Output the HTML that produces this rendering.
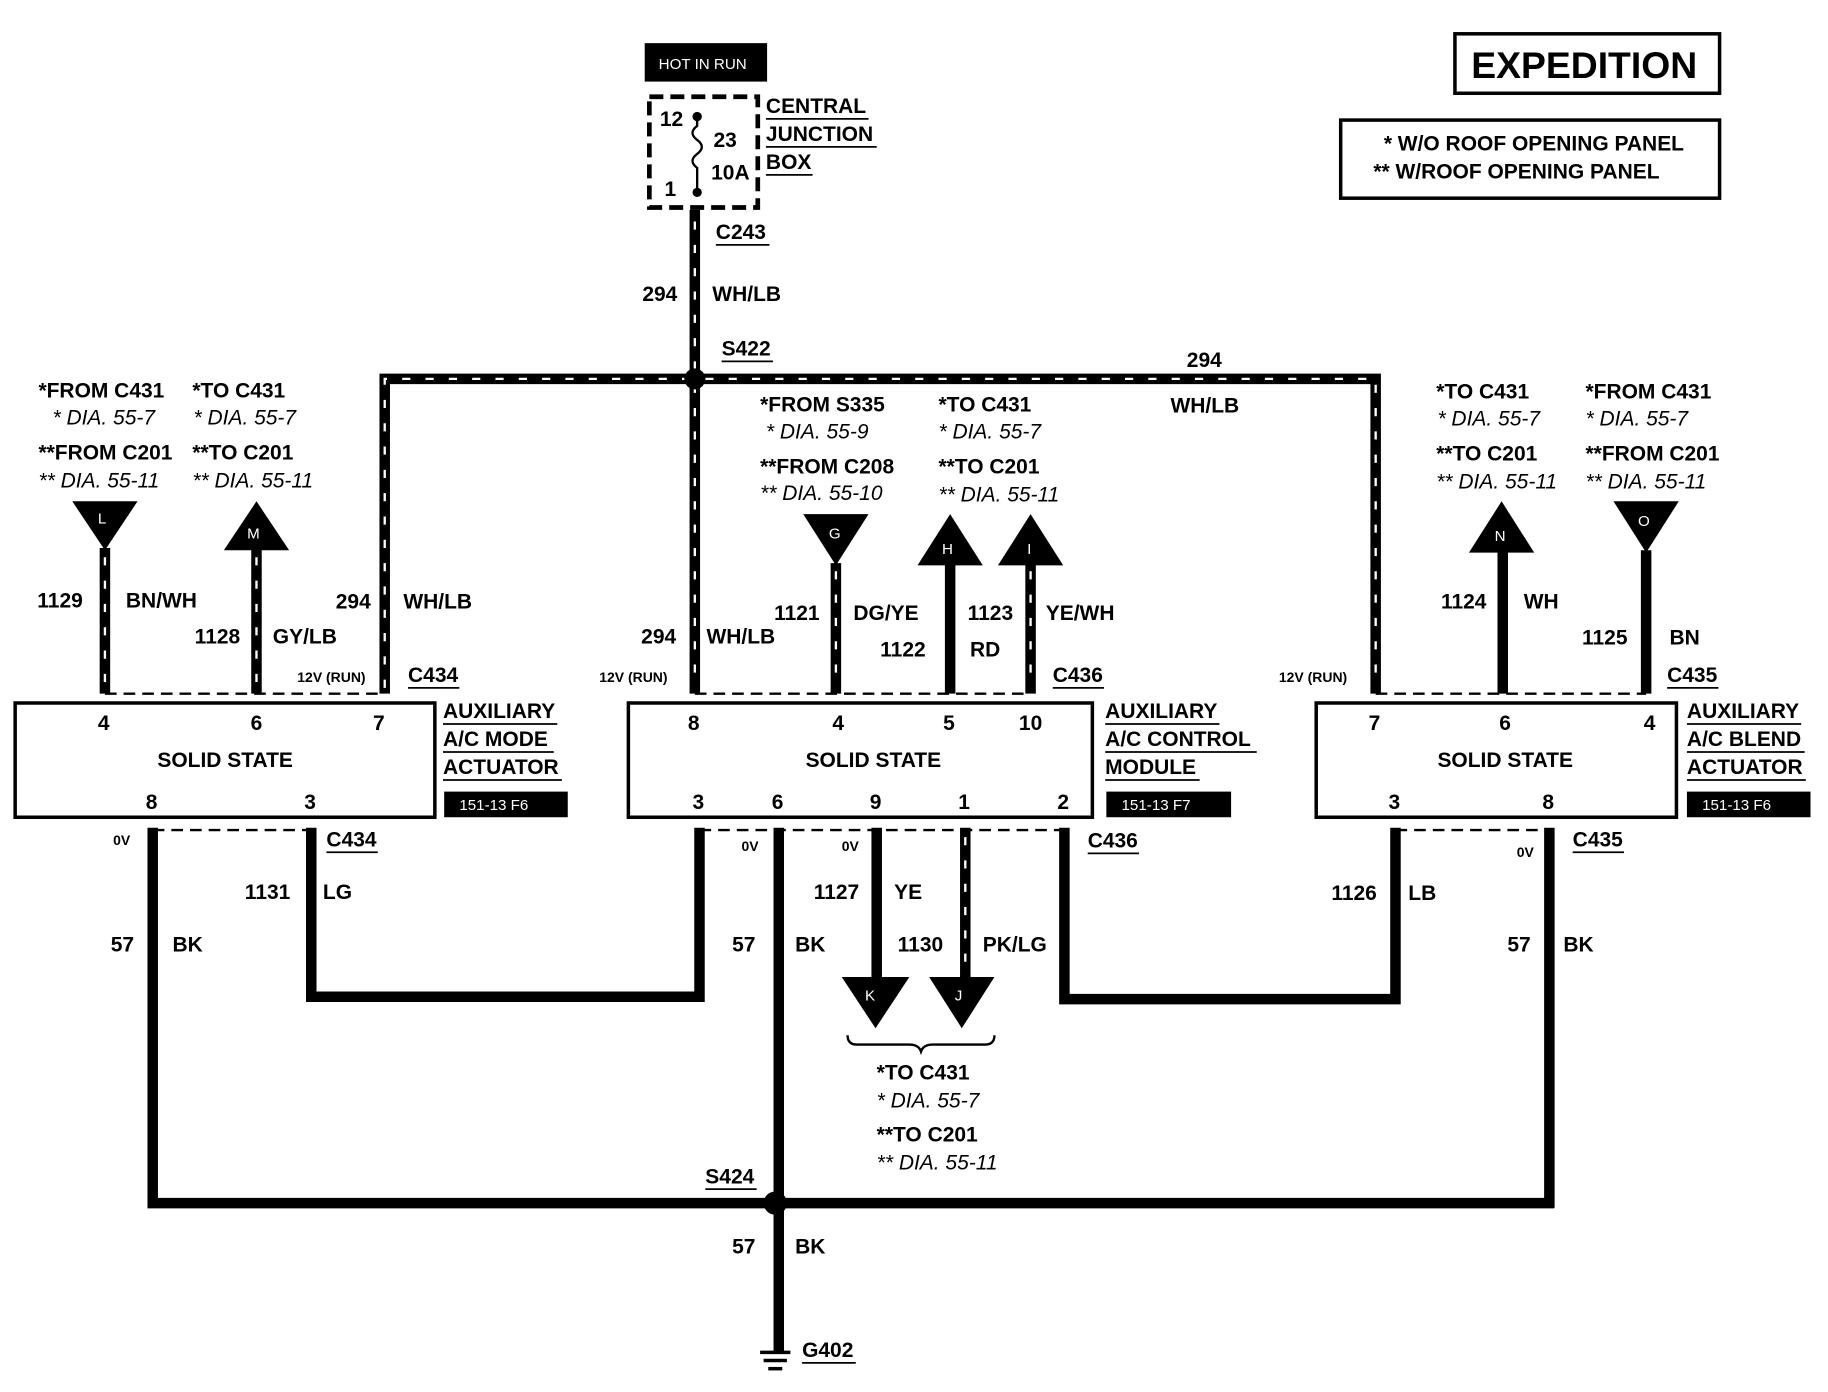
<!DOCTYPE html>
<html><head><meta charset="utf-8"><style>
html,body{margin:0;padding:0;background:#fff;}
svg{display:block;}
text{font-family:"Liberation Sans",Arial,sans-serif;font-weight:bold;font-size:18px;fill:#000;}
.i{font-style:italic;font-weight:normal;}
.s{font-size:12px;}
.w{fill:#fff;font-size:13px;font-weight:normal;}
.k{stroke:#000;stroke-width:9;fill:none;}
.st{stroke:#fff;stroke-width:2;stroke-dasharray:7 13;fill:none;}
.d{stroke:#000;stroke-width:2;stroke-dasharray:10 6;fill:none;}
.u{stroke:#000;stroke-width:1.5;}
</style></head><body>
<svg width="1828" height="1392" viewBox="0 0 1568 1194" preserveAspectRatio="none" xmlns="http://www.w3.org/2000/svg">
<rect width="1568" height="1194" fill="#fff"/>
<!-- header boxes -->
<rect x="1248" y="29" width="227" height="51" fill="none" stroke="#000" stroke-width="3"/>
<text x="1262" y="67" style="font-size:32px">EXPEDITION</text>
<rect x="1150" y="103" width="325" height="67" fill="none" stroke="#000" stroke-width="3"/>
<text x="1187" y="129">* W/O ROOF OPENING PANEL</text>
<text x="1178" y="153">** W/ROOF OPENING PANEL</text>
<!-- junction box -->
<rect x="553" y="37" width="105" height="33" fill="#000"/>
<text x="565" y="59" class="w">HOT IN RUN</text>
<rect x="557" y="83" width="93" height="95" fill="none" stroke="#000" stroke-width="4" stroke-dasharray="12 6"/>
<path d="M598 98 v10 q-8 6 0 12 q8 6 0 12 q-8 6 0 12 v22" stroke="#000" stroke-width="2" fill="none"/>
<circle cx="598" cy="100" r="4"/><circle cx="598" cy="165" r="4"/>
<text x="566" y="108">12</text><text x="612" y="126">23</text><text x="610" y="154">10A</text><text x="570" y="168">1</text>
<text x="657" y="97">CENTRAL</text><text x="657" y="121">JUNCTION</text><text x="657" y="145">BOX</text>
<line class="u" x1="657" y1="102" x2="745" y2="102"/><line class="u" x1="657" y1="126" x2="752" y2="126"/><line class="u" x1="657" y1="150" x2="697" y2="150"/>
<!-- main 294 -->
<path class="k" d="M596 180 V595"/><path class="st" d="M596 190 V590"/>
<path class="k" d="M330 595 V325 H1180 V595"/><path class="st" d="M330 590 V325 H1180 V590"/>
<circle cx="596" cy="325" r="9"/>
<text x="614" y="205">C243</text><line class="u" x1="614" y1="210" x2="660" y2="210"/>
<text x="551" y="258">294</text><text x="611" y="258">WH/LB</text>
<text x="619" y="305">S422</text><line class="u" x1="619" y1="310" x2="663" y2="310"/>
<text x="1018" y="315">294</text><text x="1004" y="354">WH/LB</text>
<!-- left labels -->
<text x="33" y="341">*FROM C431</text><text x="45" y="364" class="i">* DIA. 55-7</text>
<text x="33" y="394">**FROM C201</text><text x="33" y="418" class="i">** DIA. 55-11</text>
<text x="165" y="341">*TO C431</text><text x="166" y="364" class="i">* DIA. 55-7</text>
<text x="165" y="394">**TO C201</text><text x="165" y="418" class="i">** DIA. 55-11</text>
<polygon points="62,430 118,430 90,472"/><text x="84" y="449" class="w">L</text>
<polygon points="192,472 248,472 220,430"/><text x="212" y="462" class="w">M</text>
<path class="k" d="M90 470 V595"/><path class="st" d="M90 478 V590"/>
<path class="k" d="M220 470 V595"/><path class="st" d="M220 478 V590"/>
<text x="32" y="521">1129</text><text x="108" y="521">BN/WH</text>
<text x="167" y="552">1128</text><text x="234" y="552">GY/LB</text>
<text x="288" y="522">294</text><text x="346" y="522">WH/LB</text>
<text x="255" y="585" class="s">12V (RUN)</text>
<text x="350" y="585">C434</text><line class="u" x1="350" y1="590" x2="394" y2="590"/>
<line class="d" x1="90" y1="595" x2="330" y2="595"/>
<rect x="13" y="603" width="360" height="98" fill="none" stroke="#000" stroke-width="3"/>
<text x="84" y="626">4</text><text x="215" y="626">6</text><text x="320" y="626">7</text>
<text x="135" y="658">SOLID STATE</text>
<text x="125" y="694">8</text><text x="261" y="694">3</text>
<text x="380" y="616">AUXILIARY</text><text x="380" y="640">A/C MODE</text><text x="380" y="664">ACTUATOR</text>
<line class="u" x1="380" y1="621" x2="478" y2="621"/><line class="u" x1="380" y1="645" x2="475" y2="645"/><line class="u" x1="380" y1="669" x2="482" y2="669"/>
<rect x="381" y="679" width="106" height="22" fill="#000"/><text x="394" y="695" class="w">151-13 F6</text>
<line class="d" x1="131" y1="712" x2="267" y2="712"/>
<text x="97" y="725" class="s">0V</text>
<text x="280" y="726">C434</text><line class="u" x1="280" y1="731" x2="324" y2="731"/>
<path class="k" d="M131 710 V1032 H1333"/>
<path class="k" d="M267 710 V855 H600 V710"/>
<text x="210" y="771">1131</text><text x="277" y="771">LG</text>
<text x="95" y="816">57</text><text x="148" y="816">BK</text>
<!-- middle -->
<text x="652" y="353">*FROM S335</text><text x="657" y="376" class="i">* DIA. 55-9</text>
<text x="652" y="406">**FROM C208</text><text x="652" y="429" class="i">** DIA. 55-10</text>
<text x="805" y="353">*TO C431</text><text x="805" y="376" class="i">* DIA. 55-7</text>
<text x="805" y="406">**TO C201</text><text x="805" y="430" class="i">** DIA. 55-11</text>
<polygon points="689,441 745,441 717,485"/><text x="711" y="462" class="w">G</text>
<polygon points="787,485 843,485 815,441"/><text x="808" y="475" class="w">H</text>
<polygon points="856,485 912,485 884,441"/><text x="881" y="475" class="w">I</text>
<path class="k" d="M717 483 V595"/><path class="st" d="M717 490 V590"/>
<path class="k" d="M815 483 V595"/>
<path class="k" d="M884 483 V595"/><path class="st" d="M884 490 V590"/>
<text x="514" y="585" class="s">12V (RUN)</text>
<text x="550" y="552">294</text><text x="606" y="552">WH/LB</text>
<text x="664" y="532">1121</text><text x="732" y="532">DG/YE</text>
<text x="755" y="563">1122</text><text x="832" y="563">RD</text>
<text x="830" y="532">1123</text><text x="897" y="532">YE/WH</text>
<text x="903" y="585">C436</text><line class="u" x1="903" y1="590" x2="947" y2="590"/>
<line class="d" x1="596" y1="595" x2="884" y2="595"/>
<rect x="539" y="603" width="398" height="98" fill="none" stroke="#000" stroke-width="3"/>
<text x="590" y="626">8</text><text x="714" y="626">4</text><text x="809" y="626">5</text><text x="874" y="626">10</text>
<text x="691" y="658">SOLID STATE</text>
<text x="594" y="694">3</text><text x="662" y="694">6</text><text x="746" y="694">9</text><text x="822" y="694">1</text><text x="907" y="694">2</text>
<text x="948" y="616">AUXILIARY</text><text x="948" y="640">A/C CONTROL</text><text x="948" y="664">MODULE</text>
<line class="u" x1="948" y1="621" x2="1046" y2="621"/><line class="u" x1="948" y1="645" x2="1078" y2="645"/><line class="u" x1="948" y1="669" x2="1029" y2="669"/>
<rect x="949" y="679" width="107" height="22" fill="#000"/><text x="962" y="695" class="w">151-13 F7</text>
<line class="d" x1="600" y1="712" x2="913" y2="712"/>
<text x="636" y="730" class="s">0V</text><text x="722" y="730" class="s">0V</text>
<text x="933" y="727">C436</text><line class="u" x1="933" y1="732" x2="977" y2="732"/>
<path class="k" d="M668 710 V1160"/>
<path class="k" d="M752 710 V842"/>
<path class="k" d="M828 710 V842"/><path class="st" d="M828 718 V835"/>
<polygon points="722,838 780,838 751,882"/><text x="742" y="858" class="w">K</text>
<polygon points="797,838 853,838 825,882"/><text x="819" y="858" class="w">J</text>
<path class="k" d="M913 710 V857 H1197 V710"/>
<text x="698" y="771">1127</text><text x="767" y="771">YE</text>
<text x="770" y="816">1130</text><text x="843" y="816">PK/LG</text>
<text x="628" y="816">57</text><text x="682" y="816">BK</text>
<path d="M727 888 q0 8 8 8 h45 q8 0 10 6 q2 -6 10 -6 h45 q8 0 8 -8" stroke="#000" stroke-width="2" fill="none"/>
<text x="752" y="926">*TO C431</text><text x="752" y="950" class="i">* DIA. 55-7</text>
<text x="752" y="979">**TO C201</text><text x="752" y="1003" class="i">** DIA. 55-11</text>
<text x="605" y="1015">S424</text><line class="u" x1="605" y1="1020" x2="649" y2="1020"/>
<circle cx="665" cy="1032" r="10"/>
<text x="628" y="1075">57</text><text x="682" y="1075">BK</text>
<line x1="652" y1="1160" x2="678" y2="1160" stroke="#000" stroke-width="3"/>
<line x1="655" y1="1167" x2="675" y2="1167" stroke="#000" stroke-width="3"/>
<line x1="659" y1="1174" x2="671" y2="1174" stroke="#000" stroke-width="3"/>
<text x="688" y="1164">G402</text><line class="u" x1="688" y1="1169" x2="734" y2="1169"/>
<!-- right -->
<text x="1232" y="342">*TO C431</text><text x="1233" y="365" class="i">* DIA. 55-7</text>
<text x="1232" y="395">**TO C201</text><text x="1232" y="419" class="i">** DIA. 55-11</text>
<text x="1360" y="342">*FROM C431</text><text x="1360" y="365" class="i">* DIA. 55-7</text>
<text x="1360" y="395">**FROM C201</text><text x="1360" y="419" class="i">** DIA. 55-11</text>
<polygon points="1260,474 1316,474 1288,430"/><text x="1282" y="464" class="w">N</text>
<polygon points="1384,430 1440,430 1412,474"/><text x="1405" y="451" class="w">O</text>
<path class="k" d="M1289 472 V595"/>
<path class="k" d="M1412 472 V595"/>
<text x="1097" y="585" class="s">12V (RUN)</text>
<text x="1236" y="522">1124</text><text x="1307" y="522">WH</text>
<text x="1357" y="553">1125</text><text x="1432" y="553">BN</text>
<text x="1430" y="585">C435</text><line class="u" x1="1430" y1="590" x2="1474" y2="590"/>
<line class="d" x1="1180" y1="595" x2="1412" y2="595"/>
<rect x="1129" y="603" width="309" height="98" fill="none" stroke="#000" stroke-width="3"/>
<text x="1174" y="626">7</text><text x="1286" y="626">6</text><text x="1410" y="626">4</text>
<text x="1233" y="658">SOLID STATE</text>
<text x="1191" y="694">3</text><text x="1323" y="694">8</text>
<text x="1447" y="616">AUXILIARY</text><text x="1447" y="640">A/C BLEND</text><text x="1447" y="664">ACTUATOR</text>
<line class="u" x1="1447" y1="621" x2="1545" y2="621"/><line class="u" x1="1447" y1="645" x2="1548" y2="645"/><line class="u" x1="1447" y1="669" x2="1549" y2="669"/>
<rect x="1447" y="679" width="106" height="22" fill="#000"/><text x="1460" y="695" class="w">151-13 F6</text>
<line class="d" x1="1197" y1="712" x2="1329" y2="712"/>
<text x="1301" y="735" class="s">0V</text>
<text x="1349" y="726">C435</text><line class="u" x1="1349" y1="731" x2="1393" y2="731"/>
<path class="k" d="M1329 710 V1036"/>
<text x="1142" y="772">1126</text><text x="1208" y="772">LB</text>
<text x="1293" y="816">57</text><text x="1341" y="816">BK</text>
</svg>
</body></html>
